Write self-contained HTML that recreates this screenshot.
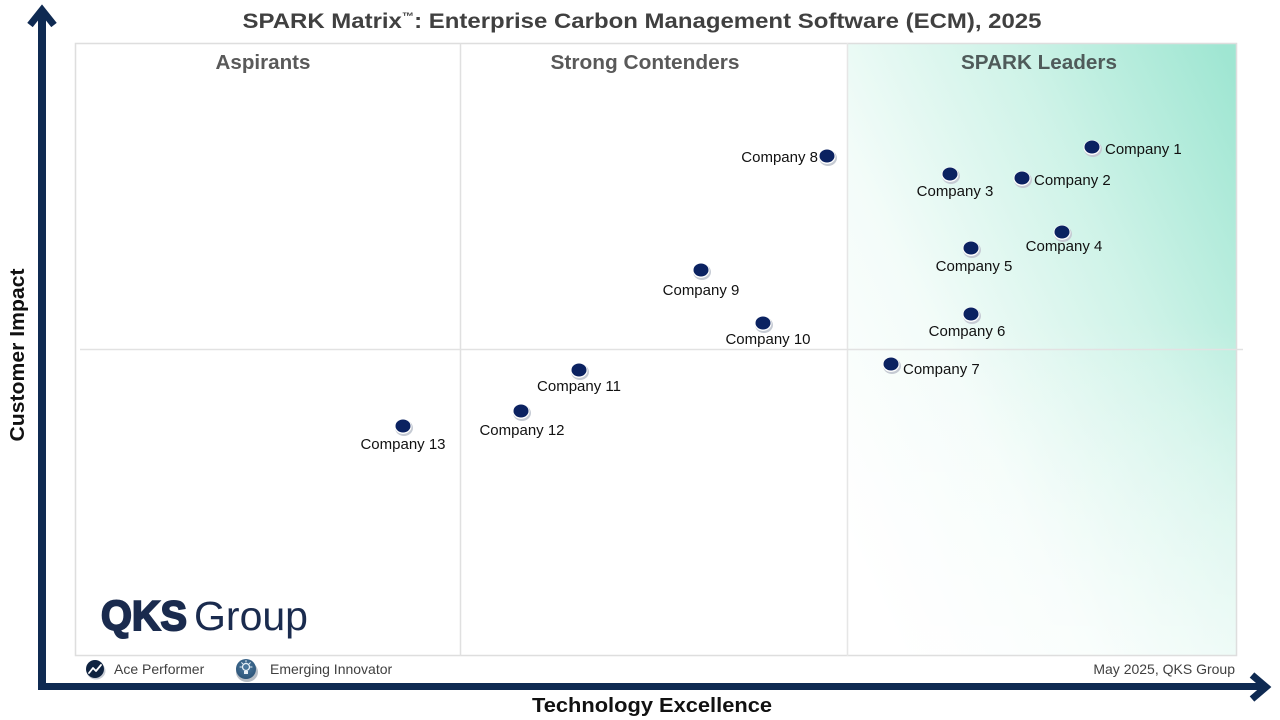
<!DOCTYPE html>
<html>
<head>
<meta charset="utf-8">
<style>
  html, body { margin:0; padding:0; background:#ffffff; }
  svg { display:block; }
  text { font-family: "Liberation Sans", Arial, sans-serif; }
</style>
</head>
<body>
<svg width="1280" height="720" viewBox="0 0 1280 720" xmlns="http://www.w3.org/2000/svg">
  <defs>
    <linearGradient id="lead" x1="0" y1="0.8" x2="1" y2="0.05">
      <stop offset="0" stop-color="#ffffff"/>
      <stop offset="0.3" stop-color="#f3fcf9"/>
      <stop offset="0.65" stop-color="#cff3e8"/>
      <stop offset="1" stop-color="#9fe6d2"/>
    </linearGradient>
    <linearGradient id="fadeB" x1="0" y1="0" x2="0" y2="1">
      <stop offset="0.45" stop-color="#ffffff" stop-opacity="0"/>
      <stop offset="1" stop-color="#ffffff" stop-opacity="0.55"/>
    </linearGradient>
    <radialGradient id="bulb" cx="0.5" cy="0.4" r="0.6">
      <stop offset="0" stop-color="#4d7aa0"/>
      <stop offset="1" stop-color="#2c5478"/>
    </radialGradient>
  </defs>

  <rect x="0" y="0" width="1280" height="720" fill="#ffffff"/>

  <!-- Leaders gradient area -->
  <rect x="847" y="43" width="390" height="613" fill="url(#lead)"/>
  <rect x="847" y="43" width="390" height="613" fill="url(#fadeB)"/>

  <!-- Plot frame -->
  <rect x="75.5" y="43.5" width="1161" height="612" fill="none" stroke="#dedede" stroke-width="1.5"/>
  <line x1="460.5" y1="43" x2="460.5" y2="656" stroke="#e0e0e0" stroke-width="1.5"/>
  <line x1="847.5" y1="43" x2="847.5" y2="656" stroke="#e6e6e6" stroke-width="1.5"/>
  <line x1="80" y1="349.5" x2="1243" y2="349.5" stroke="#e2e2e2" stroke-width="1.5"/>

  <!-- Title -->
  <text x="642" y="28" font-size="21.5" font-weight="bold" fill="#404040" text-anchor="middle" textLength="799" lengthAdjust="spacingAndGlyphs">SPARK Matrix<tspan font-size="11" dy="-8">™</tspan><tspan dy="8">: Enterprise Carbon Management Software (ECM), 2025</tspan></text>

  <!-- Quadrant labels -->
  <text x="263" y="69" font-size="20" font-weight="bold" fill="#595959" text-anchor="middle" textLength="95" lengthAdjust="spacingAndGlyphs">Aspirants</text>
  <text x="645" y="69" font-size="20" font-weight="bold" fill="#595959" text-anchor="middle" textLength="189" lengthAdjust="spacingAndGlyphs">Strong Contenders</text>
  <text x="1039" y="69" font-size="20" font-weight="bold" fill="#4f5b5a" text-anchor="middle" textLength="156" lengthAdjust="spacingAndGlyphs">SPARK Leaders</text>

  <!-- Axes arrows -->
  <rect x="38" y="14" width="8" height="676" fill="#0f2a52"/>
  <polyline points="30,25 42,10 54,25" fill="none" stroke="#0f2a52" stroke-width="7" stroke-linejoin="miter" stroke-linecap="butt"/>
  <rect x="38" y="683" width="1224" height="7" fill="#0f2a52"/>
  <polyline points="1252,675 1266,687 1252,699" fill="none" stroke="#0f2a52" stroke-width="7" stroke-linejoin="miter" stroke-linecap="butt"/>

  <!-- Axis titles -->
  <text x="652" y="712" font-size="20" font-weight="bold" fill="#111" text-anchor="middle" textLength="240" lengthAdjust="spacingAndGlyphs">Technology Excellence</text>
  <text transform="translate(24,355) rotate(-90)" x="0" y="0" font-size="20" font-weight="bold" fill="#111" text-anchor="middle" textLength="173" lengthAdjust="spacingAndGlyphs">Customer Impact</text>

  <!-- Dots -->
  <g id="dots">
    <g transform="translate(1092,147)"><ellipse cx="1" cy="2" rx="9" ry="8" fill="#c5cad3"/><ellipse cx="0" cy="0.5" rx="8.5" ry="7.5" fill="#fff"/><ellipse cx="0" cy="0" rx="7.5" ry="6.5" fill="#0b2261"/></g>
    <g transform="translate(1022,178)"><ellipse cx="1" cy="2" rx="9" ry="8" fill="#c5cad3"/><ellipse cx="0" cy="0.5" rx="8.5" ry="7.5" fill="#fff"/><ellipse cx="0" cy="0" rx="7.5" ry="6.5" fill="#0b2261"/></g>
    <g transform="translate(950,174)"><ellipse cx="1" cy="2" rx="9" ry="8" fill="#c5cad3"/><ellipse cx="0" cy="0.5" rx="8.5" ry="7.5" fill="#fff"/><ellipse cx="0" cy="0" rx="7.5" ry="6.5" fill="#0b2261"/></g>
    <g transform="translate(1062,232)"><ellipse cx="1" cy="2" rx="9" ry="8" fill="#c5cad3"/><ellipse cx="0" cy="0.5" rx="8.5" ry="7.5" fill="#fff"/><ellipse cx="0" cy="0" rx="7.5" ry="6.5" fill="#0b2261"/></g>
    <g transform="translate(971,248)"><ellipse cx="1" cy="2" rx="9" ry="8" fill="#c5cad3"/><ellipse cx="0" cy="0.5" rx="8.5" ry="7.5" fill="#fff"/><ellipse cx="0" cy="0" rx="7.5" ry="6.5" fill="#0b2261"/></g>
    <g transform="translate(971,314)"><ellipse cx="1" cy="2" rx="9" ry="8" fill="#c5cad3"/><ellipse cx="0" cy="0.5" rx="8.5" ry="7.5" fill="#fff"/><ellipse cx="0" cy="0" rx="7.5" ry="6.5" fill="#0b2261"/></g>
    <g transform="translate(891,364)"><ellipse cx="1" cy="2" rx="9" ry="8" fill="#c5cad3"/><ellipse cx="0" cy="0.5" rx="8.5" ry="7.5" fill="#fff"/><ellipse cx="0" cy="0" rx="7.5" ry="6.5" fill="#0b2261"/></g>
    <g transform="translate(827,156)"><ellipse cx="1" cy="2" rx="9" ry="8" fill="#c5cad3"/><ellipse cx="0" cy="0.5" rx="8.5" ry="7.5" fill="#fff"/><ellipse cx="0" cy="0" rx="7.5" ry="6.5" fill="#0b2261"/></g>
    <g transform="translate(701,270)"><ellipse cx="1" cy="2" rx="9" ry="8" fill="#c5cad3"/><ellipse cx="0" cy="0.5" rx="8.5" ry="7.5" fill="#fff"/><ellipse cx="0" cy="0" rx="7.5" ry="6.5" fill="#0b2261"/></g>
    <g transform="translate(763,323)"><ellipse cx="1" cy="2" rx="9" ry="8" fill="#c5cad3"/><ellipse cx="0" cy="0.5" rx="8.5" ry="7.5" fill="#fff"/><ellipse cx="0" cy="0" rx="7.5" ry="6.5" fill="#0b2261"/></g>
    <g transform="translate(579,370)"><ellipse cx="1" cy="2" rx="9" ry="8" fill="#c5cad3"/><ellipse cx="0" cy="0.5" rx="8.5" ry="7.5" fill="#fff"/><ellipse cx="0" cy="0" rx="7.5" ry="6.5" fill="#0b2261"/></g>
    <g transform="translate(521,411)"><ellipse cx="1" cy="2" rx="9" ry="8" fill="#c5cad3"/><ellipse cx="0" cy="0.5" rx="8.5" ry="7.5" fill="#fff"/><ellipse cx="0" cy="0" rx="7.5" ry="6.5" fill="#0b2261"/></g>
    <g transform="translate(403,426)"><ellipse cx="1" cy="2" rx="9" ry="8" fill="#c5cad3"/><ellipse cx="0" cy="0.5" rx="8.5" ry="7.5" fill="#fff"/><ellipse cx="0" cy="0" rx="7.5" ry="6.5" fill="#0b2261"/></g>
  </g>

  <!-- Labels -->
  <g font-size="15" fill="#111">
    <text x="1105" y="154">Company 1</text>
    <text x="1034" y="185">Company 2</text>
    <text x="955" y="196" text-anchor="middle">Company 3</text>
    <text x="1064" y="251" text-anchor="middle">Company 4</text>
    <text x="974" y="271" text-anchor="middle">Company 5</text>
    <text x="967" y="336" text-anchor="middle">Company 6</text>
    <text x="903" y="374">Company 7</text>
    <text x="818" y="162" text-anchor="end">Company 8</text>
    <text x="701" y="295" text-anchor="middle">Company 9</text>
    <text x="768" y="344" text-anchor="middle">Company 10</text>
    <text x="579" y="391" text-anchor="middle">Company 11</text>
    <text x="522" y="435" text-anchor="middle">Company 12</text>
    <text x="403" y="449" text-anchor="middle">Company 13</text>
  </g>

  <!-- QKS Group logo -->
  <text x="101" y="630" font-size="42" font-weight="bold" fill="#1a2b4e" stroke="#1a2b4e" stroke-width="2" textLength="86" lengthAdjust="spacingAndGlyphs">QKS</text>
  <text x="194" y="630" font-size="41" fill="#1a2b4e" textLength="114" lengthAdjust="spacingAndGlyphs">Group</text>

  <!-- Legend -->
  <g>
    <ellipse cx="96" cy="671" rx="9.5" ry="8.5" fill="#c9ced6"/>
    <circle cx="95" cy="669" r="9" fill="#0f2340"/>
    <polyline points="89,673 93,668 96,671 101,665" fill="none" stroke="#ffffff" stroke-width="1.8" stroke-linejoin="round" stroke-linecap="round"/>
    <text x="114" y="674" font-size="14" fill="#404040">Ace Performer</text>

    <ellipse cx="247" cy="672" rx="11" ry="10" fill="#9aa3ae" opacity="0.7"/>
    <circle cx="246" cy="669" r="10" fill="url(#bulb)"/>
    <circle cx="246" cy="667" r="3.5" fill="none" stroke="#e8f0f7" stroke-width="1.3"/>
    <rect x="244" y="671" width="4" height="3" fill="#e8f0f7"/>
    <g stroke="#e8f0f7" stroke-width="1" stroke-linecap="round">
      <line x1="246" y1="660.5" x2="246" y2="662"/>
      <line x1="240" y1="667" x2="241.5" y2="667"/>
      <line x1="250.5" y1="667" x2="252" y2="667"/>
      <line x1="241.7" y1="662.7" x2="242.8" y2="663.8"/>
      <line x1="250.3" y1="662.7" x2="249.2" y2="663.8"/>
    </g>
    <text x="270" y="674" font-size="14" fill="#404040">Emerging Innovator</text>

    <text x="1235" y="674" font-size="14" fill="#404040" text-anchor="end">May 2025, QKS Group</text>
  </g>
</svg>
</body>
</html>
